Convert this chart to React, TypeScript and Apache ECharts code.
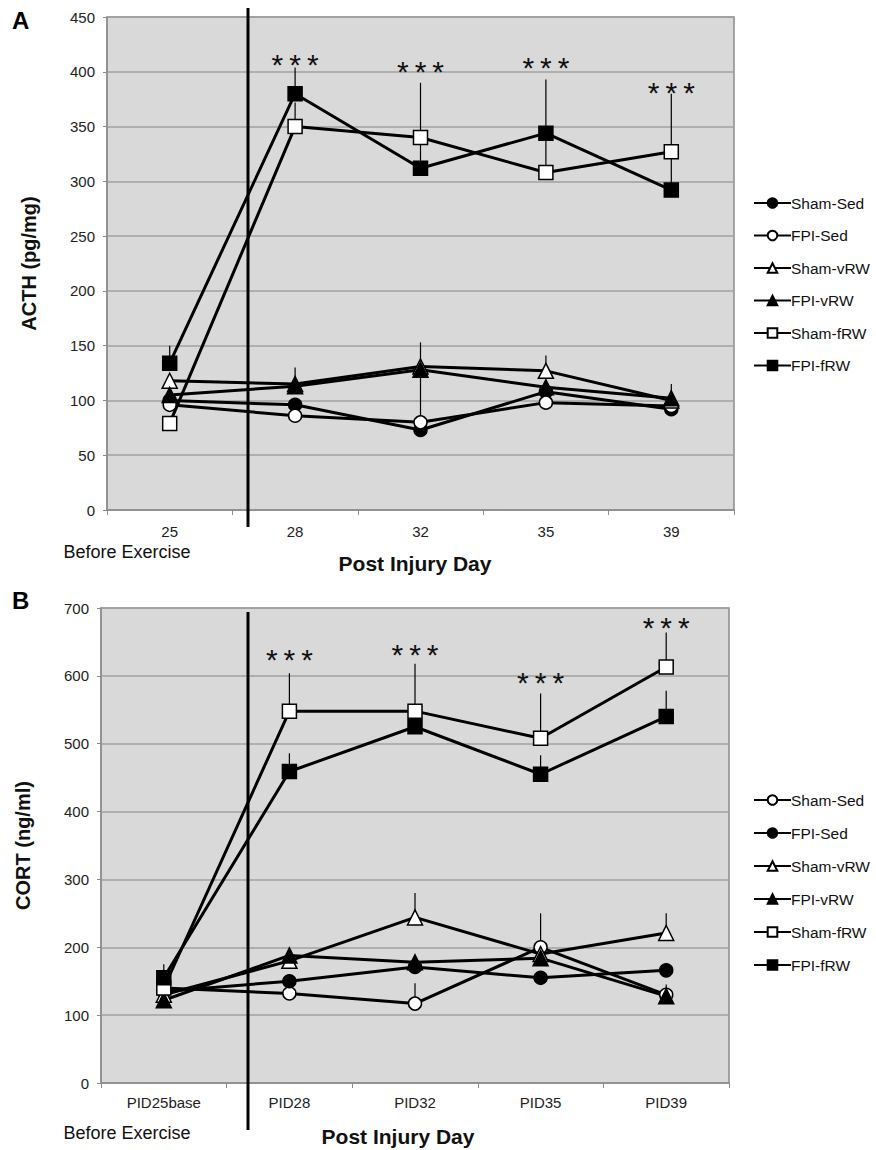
import React, { useEffect, useRef } from 'react';
import * as echarts from 'echarts';

// ---------- Panel A (ACTH) ----------
const catsA = ['25', '28', '32', '35', '39'];
const shamSedA = [100, 96, 73, 108, 92];
const fpiSedA = [96, 86, 80, 98, 95];
const shamVrwA = [118, 115, 131, 127, 100];
const fpiVrwA = [105, 113, 128, 112, 102];
const shamFrwA = [79, 350, 340, 308, 327];
const fpiFrwA = [134, 380, 312, 344, 292];
const errShamSedA = [null, null, null, null, null];
const errFpiSedA = [null, null, 128, null, null];
const errShamVrwA = [null, null, 153, 141, null];
const errFpiVrwA = [null, 130, null, null, 115];
const errShamFrwA = [null, 372, 390, 345, 380];
const errFpiFrwA = [150, 404, 338, 393, 326];
const starsA = [null, 410, 404, 408, 385];
const ticksA = { min: 0, max: 450, interval: 50 };

// ---------- Panel B (CORT) ----------
const catsB = ['PID25base', 'PID28', 'PID32', 'PID35', 'PID39'];
const shamSedB = [140, 132, 117, 200, 130];
const fpiSedB = [135, 150, 171, 155, 166];
const shamVrwB = [130, 180, 244, 190, 221];
const fpiVrwB = [122, 188, 178, 184, 128];
const shamFrwB = [140, 548, 548, 508, 613];
const fpiFrwB = [155, 459, 525, 455, 540];
const errShamSedB = [null, null, 147, 250, null];
const errFpiSedB = [null, null, null, null, null];
const errShamVrwB = [null, null, 280, null, 250];
const errFpiVrwB = [null, 200, null, null, 145];
const errShamFrwB = [null, 604, 618, 574, 664];
const errFpiFrwB = [175, 486, 548, 483, 578];
const starsB = [null, 630, 638, 596, 677];
const ticksB = { min: 0, max: 700, interval: 100 };

type Spec = {
  name: string;
  symbol: string;
  filled: boolean;
  size: number;
  values: number[];
  err: (number | null)[];
};

const FONT = 'Liberation Sans, Arial, sans-serif';

function buildOption(p: {
  cats: string[];
  series: Spec[];
  stars: (number | null)[];
  ticks: { min: number; max: number; interval: number };
  yName: string;
  grid: { left: number; right: number; top: number; height: number };
  legendTop: number;
  legendGap: number;
  letter: string;
  letterTop: number;
  vline: [number, number, number];
  before: [number, number];
  post: [number, number];
  labelMargin: number;
}) {
  const seriesArr: any[] = [];
  p.series.forEach((s) => {
    seriesArr.push({
      type: 'custom',
      name: s.name + ' err',
      z: 1,
      silent: true,
      data: s.values.map((v, i) => [i, v, s.err[i] == null ? v : s.err[i]]),
      renderItem: (params: any, api: any) => {
        const i = api.value(0);
        const a = api.coord([i, api.value(1)]);
        const b = api.coord([i, api.value(2)]);
        if (Math.abs(a[1] - b[1]) < 0.5) return null;
        return {
          type: 'line',
          shape: { x1: a[0], y1: a[1], x2: b[0], y2: b[1] },
          style: { stroke: '#000', lineWidth: 1.2 },
        };
      },
    });
  });
  p.series.forEach((s) => {
    seriesArr.push({
      type: 'line',
      name: s.name,
      data: s.values,
      z: 3,
      symbol: s.symbol,
      symbolSize: s.size,
      showAllSymbol: true,
      lineStyle: { color: '#000', width: 3 },
      itemStyle: {
        color: s.filled ? '#000' : '#fff',
        borderColor: '#000',
        borderWidth: 1.5,
      },
      emphasis: { disabled: true },
    });
  });
  seriesArr.push({
    type: 'custom',
    name: 'stars',
    z: 4,
    silent: true,
    data: p.stars.map((v, i) => [i, v]).filter((d) => d[1] != null),
    renderItem: (params: any, api: any) => {
      const c = api.coord([api.value(0), api.value(1)]);
      return {
        type: 'text',
        x: c[0],
        y: c[1] + 4,
        style: {
          text: '*\u2009*\u2009*',
          fontSize: 30,
          fontFamily: FONT,
          fill: '#111',
          align: 'center',
          verticalAlign: 'middle',
        },
      };
    },
  });

  return {
    animation: false,
    backgroundColor: '#fff',
    grid: {
      ...p.grid,
      show: true,
      backgroundColor: '#d9d9d9',
      borderColor: '#8c8c8c',
      borderWidth: 1.5,
    },
    legend: {
      orient: 'vertical',
      left: 748,
      top: p.legendTop,
      itemWidth: 37,
      itemHeight: 12,
      itemGap: p.legendGap,
      selectedMode: false,
      data: p.series.map((s) => s.name),
      textStyle: { fontSize: 15.5, fontFamily: FONT, color: '#111', padding: [0, 0, 0, -5] },
    },
    xAxis: {
      type: 'category',
      data: p.cats,
      boundaryGap: true,
      axisLine: { lineStyle: { color: '#8c8c8c', width: 1.5 } },
      axisTick: { show: true, length: 5, lineStyle: { color: '#8c8c8c' } },
      axisLabel: { fontSize: 15, fontFamily: FONT, color: '#222', margin: p.labelMargin },
    },
    yAxis: {
      type: 'value',
      min: p.ticks.min,
      max: p.ticks.max,
      interval: p.ticks.interval,
      name: p.yName,
      nameLocation: 'middle',
      nameGap: 68,
      nameTextStyle: { fontSize: 20, fontWeight: 'bold', fontFamily: FONT, color: '#111' },
      axisLine: { show: true, lineStyle: { color: '#8c8c8c', width: 1.5 } },
      axisTick: { show: true, length: 4, lineStyle: { color: '#8c8c8c' } },
      axisLabel: { fontSize: 15, fontFamily: FONT, color: '#222', margin: 12 },
      splitLine: { show: true, lineStyle: { color: '#a0a0a0', width: 1.5 } },
    },
    graphic: [
      {
        type: 'text',
        left: 12,
        top: p.letterTop,
        style: { text: p.letter, fontSize: 24, fontWeight: 'bold', fontFamily: FONT, fill: '#000' },
      },
      {
        type: 'line',
        z: 10,
        shape: { x1: p.vline[0], y1: p.vline[1], x2: p.vline[0], y2: p.vline[2] },
        style: { stroke: '#000', lineWidth: 3 },
      },
      {
        type: 'text',
        x: p.before[0],
        y: p.before[1],
        style: {
          text: 'Before Exercise',
          fontSize: 18,
          fontFamily: FONT,
          fill: '#111',
          align: 'center',
          verticalAlign: 'middle',
        },
      },
      {
        type: 'text',
        x: p.post[0],
        y: p.post[1],
        style: {
          text: 'Post Injury Day',
          fontSize: 21,
          fontWeight: 'bold',
          fontFamily: FONT,
          fill: '#111',
          align: 'center',
          verticalAlign: 'middle',
        },
      },
    ],
    series: seriesArr,
  };
}

function Chart({ option, height }: { option: any; height: number }) {
  const ref = useRef<HTMLDivElement>(null);
  useEffect(() => {
    if (!ref.current) return;
    const chart = echarts.init(ref.current, undefined, { renderer: 'svg' });
    chart.setOption(option);
    return () => chart.dispose();
  }, [option]);
  return <div ref={ref} style={{ width: 876, height }} />;
}

const optionA = buildOption({
  cats: catsA,
  series: [
    { name: 'Sham-Sed', symbol: 'circle', filled: true, size: 13, values: shamSedA, err: errShamSedA },
    { name: 'FPI-Sed', symbol: 'circle', filled: false, size: 13, values: fpiSedA, err: errFpiSedA },
    { name: 'Sham-vRW', symbol: 'triangle', filled: false, size: 15, values: shamVrwA, err: errShamVrwA },
    { name: 'FPI-vRW', symbol: 'triangle', filled: true, size: 15, values: fpiVrwA, err: errFpiVrwA },
    { name: 'Sham-fRW', symbol: 'rect', filled: false, size: 14, values: shamFrwA, err: errShamFrwA },
    { name: 'FPI-fRW', symbol: 'rect', filled: true, size: 14, values: fpiFrwA, err: errFpiFrwA },
  ],
  stars: starsA,
  ticks: ticksA,
  yName: 'ACTH (pg/mg)',
  grid: { left: 107, right: 142, top: 17, height: 493 },
  legendTop: 190,
  legendGap: 16.5,
  letter: 'A',
  letterTop: 8,
  vline: [248, 8, 527],
  before: [127, 552],
  post: [415, 563],
  labelMargin: 14,
});

const optionB = buildOption({
  cats: catsB,
  series: [
    { name: 'Sham-Sed', symbol: 'circle', filled: false, size: 13, values: shamSedB, err: errShamSedB },
    { name: 'FPI-Sed', symbol: 'circle', filled: true, size: 13, values: fpiSedB, err: errFpiSedB },
    { name: 'Sham-vRW', symbol: 'triangle', filled: false, size: 15, values: shamVrwB, err: errShamVrwB },
    { name: 'FPI-vRW', symbol: 'triangle', filled: true, size: 15, values: fpiVrwB, err: errFpiVrwB },
    { name: 'Sham-fRW', symbol: 'rect', filled: false, size: 14, values: shamFrwB, err: errShamFrwB },
    { name: 'FPI-fRW', symbol: 'rect', filled: true, size: 14, values: fpiFrwB, err: errFpiFrwB },
  ],
  stars: starsB,
  ticks: ticksB,
  yName: 'CORT (ng/ml)',
  grid: { left: 101, right: 147, top: 33, height: 475 },
  legendTop: 212,
  legendGap: 17,
  letter: 'B',
  letterTop: 13,
  vline: [248, 37, 555],
  before: [127, 558],
  post: [398, 561],
  labelMargin: 12,
});

export default function App() {
  return (
    <div style={{ position: 'absolute', left: 0, top: 0, width: 876, height: 1150, background: '#fff' }}>
      <Chart option={optionA} height={575} />
      <Chart option={optionB} height={575} />
    </div>
  );
}
